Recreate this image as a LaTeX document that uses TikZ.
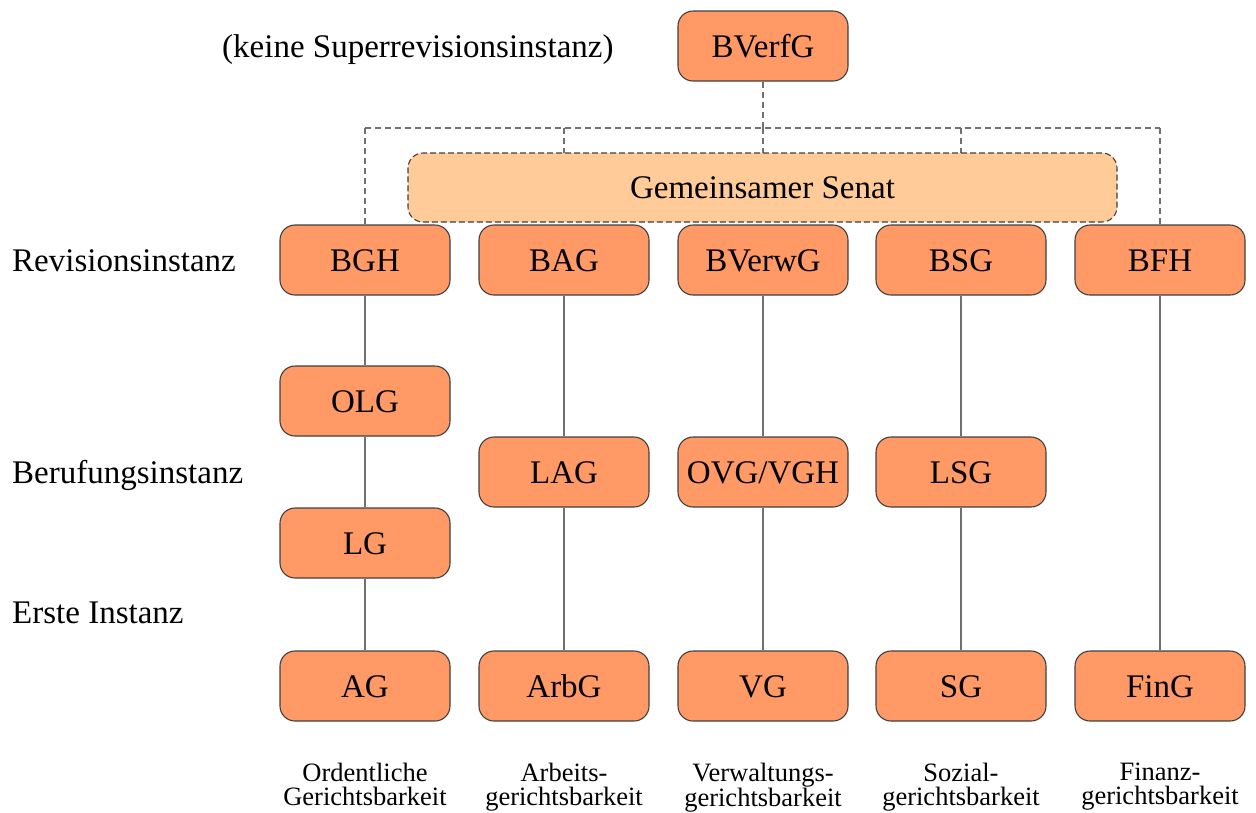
\documentclass[tikz,border=0pt]{standalone}
\usepackage{fontspec}
\setmainfont{Liberation Serif}
\definecolor{boxfill}{HTML}{FF9966}
\definecolor{senatfill}{HTML}{FFCC99}
\definecolor{boxline}{HTML}{404040}
\definecolor{conn}{HTML}{707070}
\begin{document}
\begin{tikzpicture}[x=1pt,y=-1pt,
  court/.style={draw=boxline, line width=1.1pt, fill=boxfill, rounded corners=15pt,
    minimum width=170pt, minimum height=70pt, inner sep=0pt,
    font=\fontsize{33}{36}\selectfont, text height=22pt, text depth=0pt},
  senat/.style={draw=boxline, dashed, dash pattern=on 6pt off 3pt, line width=1.1pt, fill=senatfill, rounded corners=15pt,
    minimum width=709pt, minimum height=69pt, inner sep=0pt,
    font=\fontsize{33}{36}\selectfont, text height=22pt, text depth=0pt},
  lvl/.style={anchor=base west, inner sep=0pt, font=\fontsize{33}{36}\selectfont},
  juris/.style={anchor=north, inner sep=0pt, align=center, font=\fontsize{26.5}{24}\selectfont},
  solidconn/.style={draw=conn, line width=1.5pt},
  dashconn/.style={draw=conn, line width=1.5pt, dash pattern=on 6pt off 4pt}
]
\useasboundingbox (0,0) rectangle (1256,812);

% coordinates for dashed network
\coordinate (hl) at (365,128);
\coordinate (hr) at (1160,128);
\coordinate (h2) at (564,128);
\coordinate (h3) at (763,128);
\coordinate (h4) at (961,128);

% top
\node[court] (bverfg) at (763,46) {BVerfG};
\node[lvl] (keine) at (222,57) {(keine Superrevisionsinstanz)};

% revision row
\node[court] (bgh) at (365,260) {BGH};
\node[court] (bag) at (564,260) {BAG};
\node[court] (bverwg) at (763,260) {BVerwG};
\node[court] (bsg) at (961,260) {BSG};
\node[court] (bfh) at (1160,260) {BFH};

% dashed connectors
\draw[dashconn] (bverfg.south) -- (h3);
\draw[dashconn] (hl) -- (hr);
\draw[dashconn] (hl) -- (bgh.north);
\draw[dashconn] (hr) -- (bfh.north);
\coordinate (s2) at (564,153);
\coordinate (s3) at (763,153);
\coordinate (s4) at (961,153);
\draw[dashconn] (h2) -- (s2);
\draw[dashconn] (h3) -- (s3);
\draw[dashconn] (h4) -- (s4);

\node[senat] (senat) at (762.5,187.5) {Gemeinsamer Senat};

% other rows
\node[court] (olg) at (365,401) {OLG};
\node[court] (lg) at (365,543) {LG};
\node[court] (ag) at (365,686) {AG};
\node[court] (lag) at (564,472) {LAG};
\node[court] (arbg) at (564,686) {ArbG};
\node[court] (ovg) at (763,472) {OVG/VGH};
\node[court] (vg) at (763,686) {VG};
\node[court] (lsg) at (961,472) {LSG};
\node[court] (sg) at (961,686) {SG};
\node[court] (fing) at (1160,686) {FinG};

% solid connectors
\draw[solidconn] (bgh) -- (olg);
\draw[solidconn] (olg) -- (lg);
\draw[solidconn] (lg) -- (ag);
\draw[solidconn] (bag) -- (lag);
\draw[solidconn] (lag) -- (arbg);
\draw[solidconn] (bverwg) -- (ovg);
\draw[solidconn] (ovg) -- (vg);
\draw[solidconn] (bsg) -- (lsg);
\draw[solidconn] (lsg) -- (sg);
\draw[solidconn] (bfh) -- (fing);

% level labels
\node[lvl] (rev) at (12,271) {Revisionsinstanz};
\node[lvl] (ber) at (12,483) {Berufungsinstanz};
\node[lvl] (erste) at (12,623) {Erste Instanz};

% jurisdiction labels
\node[juris] (j1) at (365,763) {Ordentliche\\Gerichtsbarkeit};
\node[juris] (j2) at (564,763) {Arbeits-\\gerichtsbarkeit};
\node[juris] (j3) at (763,763) {Verwaltungs-\\gerichtsbarkeit};
\node[juris] (j4) at (961,763) {Sozial-\\gerichtsbarkeit};
\node[juris] (j5) at (1160,763) {Finanz-\\gerichtsbarkeit};
\end{tikzpicture}
\end{document}
